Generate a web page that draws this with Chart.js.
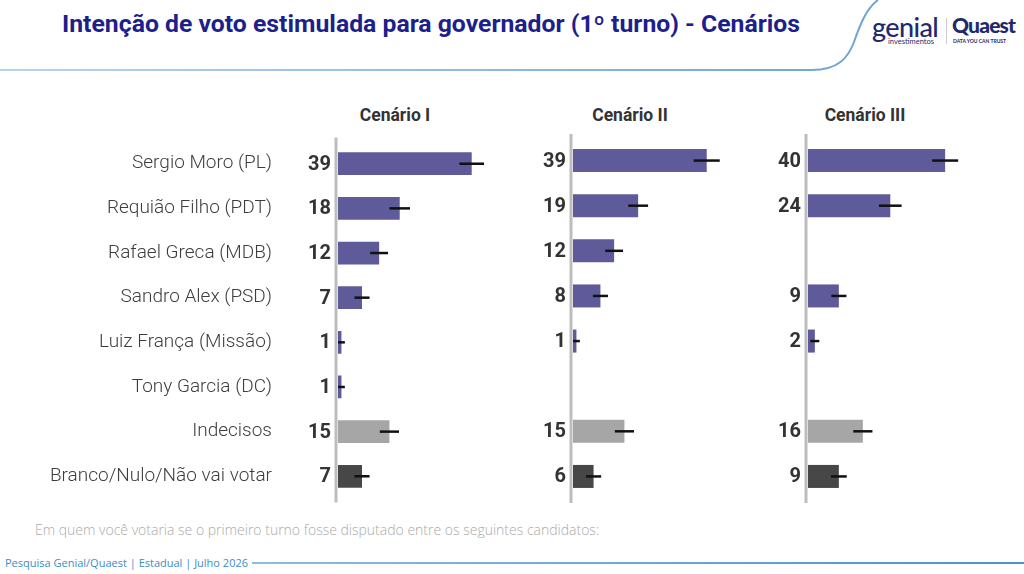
<!DOCTYPE html>
<html lang="pt-BR">
<head>
<meta charset="utf-8">
<title>Intenção de voto estimulada para governador</title>
<script src="https://cdn.jsdelivr.net/npm/chart.js@4.4.1/dist/chart.umd.min.js"></script>
<style>
  html, body { margin: 0; padding: 0; background: #fff; }
  #page { position: relative; width: 1024px; height: 574px; overflow: hidden; font-family: Roboto, sans-serif; }
  #page canvas { position: absolute; }
  .panel-title { position: absolute; top: 105px; width: 160px; text-align: center; font: 700 17.5px Roboto, sans-serif; color: #333; }
  .note { position: absolute; left: 35px; top: 520px; font: 300 14px "Open Sans", sans-serif; color: #aaa; white-space: nowrap; }
  .foot { position: absolute; left: 5px; top: 555px; font: 400 11px "Open Sans", sans-serif; color: #3b8dc9; white-space: nowrap; }
  .logo { position: absolute; top: 14px; left: 872px; color: #1f2a6e; white-space: nowrap; }
  .logo .g { position: absolute; left: 0; top: -4px; font: 500 27px Lato, sans-serif; letter-spacing: -0.6px; }
  .logo .gi { position: absolute; left: 16px; top: 23px; font: 400 7.5px Lato, sans-serif; }
  .logo .sep { position: absolute; left: 74px; top: 4px; width: 1px; height: 26px; background: #c8cbd8; }
  .logo .q { position: absolute; left: 80px; top: -2px; font: 900 21px Lato, sans-serif; letter-spacing: -0.8px; }
  .logo .qi { position: absolute; left: 81px; top: 24px; font: 700 5px Lato, sans-serif; }
</style>
</head>
<body>
<div id="page">
  <svg width="1024" height="574" style="position:absolute;left:0;top:0">
    <defs>
      <linearGradient id="hdr" gradientUnits="userSpaceOnUse" x1="0" y1="0" x2="880" y2="0">
        <stop offset="0" stop-color="#b9d4ea"/>
        <stop offset="1" stop-color="#6ea3d3"/>
      </linearGradient>
      <linearGradient id="ftr" gradientUnits="userSpaceOnUse" x1="252" y1="0" x2="1024" y2="0">
        <stop offset="0" stop-color="#8fbbe0"/>
        <stop offset="1" stop-color="#4d92cc"/>
      </linearGradient>
    </defs>
    <path d="M0,70 L812,70 C838,70 848,58 854,42 C861,22 867,8 878,0" fill="none" stroke="url(#hdr)" stroke-width="2"/>
    <line x1="252" y1="563" x2="1024" y2="563" stroke="url(#ftr)" stroke-width="2"/>
    <text x="62" y="32" textLength="738" lengthAdjust="spacingAndGlyphs"
          font-family="Roboto, sans-serif" font-weight="700" font-size="23" fill="#1d1f8c">Intenção de voto estimulada para governador (1º turno) - Cenários</text>
  </svg>

  <div class="logo">
    <span class="g">genial</span><span class="gi">investimentos</span>
    <span class="sep"></span>
    <span class="q">Quaest</span><span class="qi">DATA YOU CAN TRUST</span>
  </div>

  <div class="panel-title" style="left:315px">Cenário I</div>
  <div class="panel-title" style="left:550px">Cenário II</div>
  <div class="panel-title" style="left:785px">Cenário III</div>

  <canvas id="c1" width="530" height="380" style="left:0;top:130px"></canvas>
  <canvas id="c2" width="235" height="380" style="left:530px;top:130px"></canvas>
  <canvas id="c3" width="235" height="380" style="left:765px;top:130px"></canvas>

  <div class="note">Em quem você votaria se o primeiro turno fosse disputado entre os seguintes candidatos:</div>
  <div class="foot">Pesquisa Genial/Quaest | Estadual | Julho 2026</div>
</div>

<script>
  // categories
  const categories = [
    "Sergio Moro (PL)",
    "Requião Filho (PDT)",
    "Rafael Greca (MDB)",
    "Sandro Alex (PSD)",
    "Luiz França (Missão)",
    "Tony Garcia (DC)",
    "Indecisos",
    "Branco/Nulo/Não vai votar",
  ];

  // vote share per scenario (null = not in scenario)
  const cenario1 = [39, 18, 12, 7, 1, 1, 15, 7];
  const cenario2 = [39, 19, 12, 8, 1, null, 15, 6];
  const cenario3 = [40, 24, null, 9, 2, null, 16, 9];

  // margin of error drawn as black lines
  const margem1 = [3.6, 3.0, 2.6, 2.2, 1.0, 1.0, 2.8, 2.2];
  const margem2 = [3.8, 2.9, 2.6, 2.2, 1.0, null, 2.8, 2.2];
  const margem3 = [3.8, 3.3, null, 2.2, 1.3, null, 2.8, 2.3];

  const panelTitles = ["Cenário I", "Cenário II", "Cenário III"];

  const barColors = [
    "#5f5b9b", "#5f5b9b", "#5f5b9b", "#5f5b9b", "#5f5b9b", "#5f5b9b",
    "#a6a6a6", "#474747",
  ];

  // axis line, value labels and error lines
  const panelDecor = {
    id: "panelDecor",
    beforeDatasetsDraw(chart) {
      const { ctx, chartArea } = chart;
      ctx.save();
      ctx.strokeStyle = "#bdbdbd";
      ctx.lineWidth = 3;
      ctx.beginPath();
      ctx.moveTo(chartArea.left - 2, chartArea.top - 4);
      ctx.lineTo(chartArea.left - 2, chartArea.bottom + 4);
      ctx.stroke();
      ctx.restore();
    },
    afterDatasetsDraw(chart) {
      const { ctx, chartArea } = chart;
      const xs = chart.scales.x;
      const ys = chart.scales.y;
      const vals = chart.data.datasets[0].data;
      const moe = chart.options.plugins.panelDecor.moe;
      ctx.save();
      vals.forEach((v, i) => {
        if (v == null) return;
        const y = ys.getPixelForValue(i);
        const m = moe[i];
        ctx.strokeStyle = "#111";
        ctx.lineWidth = 2.5;
        ctx.beginPath();
        ctx.moveTo(xs.getPixelForValue(Math.max(0, v - m)), y);
        ctx.lineTo(xs.getPixelForValue(v + m), y);
        ctx.stroke();

        ctx.fillStyle = "#333";
        ctx.font = "700 20px Roboto";
        ctx.textAlign = "right";
        ctx.textBaseline = "middle";
        ctx.fillText(String(v), chartArea.left - 7, y + 1);
      });
      ctx.restore();
    },
  };

  function makePanel(id, values, moe, axisWidth, showLabels, title) {
    return new Chart(document.getElementById(id), {
      type: "bar",
      data: {
        labels: categories,
        datasets: [{
          label: title,
          data: values,
          backgroundColor: barColors,
          barPercentage: 0.51,
          categoryPercentage: 1,
        }],
      },
      options: {
        indexAxis: "y",
        responsive: false,
        animation: false,
        layout: { padding: { top: 8, bottom: 11, right: 0, left: 0 } },
        scales: {
          x: { display: false, min: 0, max: 56 },
          y: {
            display: true,
            // invisible tick marks make room for the value labels
            grid: { display: true, drawOnChartArea: false, drawTicks: true, tickLength: 66, color: "rgba(0,0,0,0)" },
            border: { display: false },
            ticks: {
              display: showLabels,
              padding: 0,
              color: "#3d3d3d",
              font: { family: "Roboto", size: 19, weight: 300 },
            },
            afterFit(scale) { scale.width = axisWidth; },
          },
        },
        plugins: {
          legend: { display: false },
          tooltip: { enabled: false },
          panelDecor: { moe: moe },
        },
      },
      plugins: [panelDecor],
    });
  }

  makePanel("c1", cenario1, margem1, 338, true, panelTitles[0]);
  makePanel("c2", cenario2, margem2, 43, false, panelTitles[1]);
  makePanel("c3", cenario3, margem3, 43, false, panelTitles[2]);
</script>
</body>
</html>
